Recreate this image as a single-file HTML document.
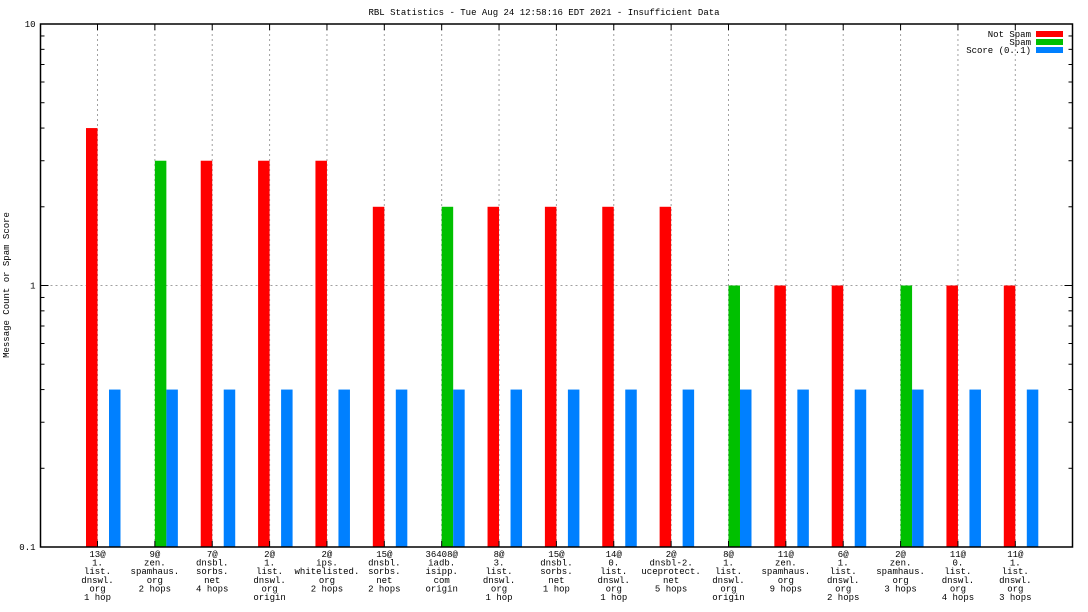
<!DOCTYPE html>
<html><head><meta charset="utf-8"><style>
body{margin:0;background:#fff;}
svg{display:block;font-family:"Liberation Mono","DejaVu Sans Mono",monospace;font-size:9px;}
</style></head><body>
<svg id="chart" width="1088" height="612" viewBox="0 0 1088 612">
<text x="544" y="15" text-anchor="middle">RBL Statistics - Tue Aug 24 12:58:16 EDT 2021 - Insufficient Data</text>
<text transform="translate(9,285) rotate(-90)" text-anchor="middle">Message Count or Spam Score</text>
<g id="grid"></g><g id="bars"></g><g id="axes"></g><g id="labels"></g>
<g>
<text x="1031" y="37" text-anchor="end">Not Spam</text>
<rect x="1036" y="31" width="27" height="6" fill="#ff0000"/>
<text x="1031" y="45" text-anchor="end">Spam</text>
<rect x="1036" y="39" width="27" height="6" fill="#00c000"/>
<text x="1031" y="53" text-anchor="end">Score (0..1)</text>
<rect x="1036" y="47" width="27" height="6" fill="#0080ff"/>
</g>
</svg>
<script>
const categories=[
["13@","1.","list.","dnswl.","org","1 hop"],
["9@","zen.","spamhaus.","org","2 hops"],
["7@","dnsbl.","sorbs.","net","4 hops"],
["2@","1.","list.","dnswl.","org","origin"],
["2@","ips.","whitelisted.","org","2 hops"],
["15@","dnsbl.","sorbs.","net","2 hops"],
["36408@","iadb.","isipp.","com","origin"],
["8@","3.","list.","dnswl.","org","1 hop"],
["15@","dnsbl.","sorbs.","net","1 hop"],
["14@","0.","list.","dnswl.","org","1 hop"],
["2@","dnsbl-2.","uceprotect.","net","5 hops"],
["8@","1.","list.","dnswl.","org","origin"],
["11@","zen.","spamhaus.","org","9 hops"],
["6@","1.","list.","dnswl.","org","2 hops"],
["2@","zen.","spamhaus.","org","3 hops"],
["11@","0.","list.","dnswl.","org","4 hops"],
["11@","1.","list.","dnswl.","org","3 hops"]];
const notSpam=[4,0,3,3,3,2,0,2,2,2,2,0,1,1,0,1,1];
const spam=[0,3,0,0,0,0,2,0,0,0,0,1,0,0,1,0,0];
const score=[0.4,0.4,0.4,0.4,0.4,0.4,0.4,0.4,0.4,0.4,0.4,0.4,0.4,0.4,0.4,0.4,0.4];
const yTicks=[0.1,1,10];
const yTickLabels=["0.1","1","10"];

const NS="http://www.w3.org/2000/svg";
const L=40.5,R=1072.5,T=24,B=547;
const yMin=0.1,yMax=10;
function y(v){return B-(Math.log10(v)-Math.log10(yMin))/(Math.log10(yMax)-Math.log10(yMin))*(B-T);}
const x0=97.5,step=(1015.3-97.5)/16,bw=11.5;
function x(i){return x0+i*step;}
function mk(tag,attrs,parent){const e=document.createElementNS(NS,tag);for(const k in attrs)e.setAttribute(k,attrs[k]);document.getElementById(parent).appendChild(e);return e;}

categories.forEach((c,i)=>{
 const g=mk('line',{x1:x(i),x2:x(i),y1:T,y2:B,stroke:'#a0a0a0','stroke-dasharray':'2,3','stroke-width':1},'grid');
 
 
});
yTicks.forEach((t)=>{
 if(t===yMin||t===yMax)return;
 const g=mk('line',{x1:L,x2:R,y1:y(t),y2:y(t),stroke:'#a0a0a0','stroke-dasharray':'2,3','stroke-width':1},'grid');
 
 
});
function bar(v,xs,color,name){
 if(!(v>yMin))return;
 const r=mk('rect',{x:xs,y:y(v),width:bw,height:B-y(v),fill:color},'bars');
 
 
}
categories.forEach((c,i)=>{
 bar(notSpam[i],x(i)-bw,'#ff0000','bar-not-spam');
 bar(spam[i],x(i),'#00c000','bar-spam');
 bar(score[i],x(i)+bw,'#0080ff','bar-score');
});
const f=mk('rect',{x:L,y:T,width:R-L,height:B-T,fill:'none',stroke:'#000','stroke-width':1.5},'axes');


for(let d=-1;d<1;d++){for(let m=2;m<10;m++){const yy=y(m*Math.pow(10,d));
 const a=mk('line',{x1:L,x2:L+4,y1:yy,y2:yy,stroke:'#000'},'axes');
 
 const b=mk('line',{x1:R,x2:R-4,y1:yy,y2:yy,stroke:'#000'},'axes');
 }}
yTicks.forEach((t,k)=>{
 const a=mk('line',{x1:L,x2:L+8,y1:y(t),y2:y(t),stroke:'#000'},'axes');
 
 const b=mk('line',{x1:R,x2:R-8,y1:y(t),y2:y(t),stroke:'#000'},'axes');
 
 const tx=mk('text',{x:L-5,y:y(t)+3,'text-anchor':'end'},'labels');
 tx.textContent=yTickLabels[k];
 
 
});
categories.forEach((c,i)=>{
 const a=mk('line',{x1:x(i),x2:x(i),y1:T,y2:T+6,stroke:'#000'},'axes');
 
 const b=mk('line',{x1:x(i),x2:x(i),y1:B,y2:B-6,stroke:'#000'},'axes');
 
 const t=mk('text',{x:x(i),y:557,'text-anchor':'middle'},'labels');
 
 
 c.forEach((line,j)=>{const s=document.createElementNS(NS,'tspan');s.setAttribute('x',x(i));s.setAttribute('y',557+j*8.6);s.textContent=line;t.appendChild(s);});
});
</script>
</body></html>
